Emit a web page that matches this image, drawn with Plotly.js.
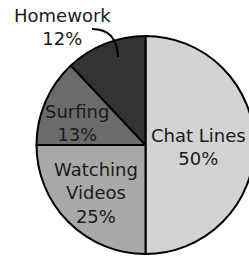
<!DOCTYPE html>
<html>
<head>
<meta charset="utf-8">
<script src="https://cdn.plot.ly/plotly-3.0.1.min.js"></script>
<style>
html,body{margin:0;padding:0;background:#fff;overflow:hidden;width:249px;height:257px;}
#chart{width:260px;height:257px;}
</style>
</head>
<body>
<div id="chart"></div>
<script>
// Data
const categories = ['Chat Lines', 'Watching Videos', 'Surfing', 'Homework'];
const labelText = ['Chat Lines', 'Watching<br>Videos', 'Surfing', 'Homework'];
const percents = [50, 25, 13, 12];
const sliceColors = ['#d3d3d3', '#a9a9a9', '#6b6b6b', '#333333'];

const W = 260, H = 257;
const px = x => x / W;
const py = y => 1 - y / H;

// label block centres (pixels)
const labelPos = [[198, 147], [96, 193], [77, 123], [62, 27]];

const annotations = categories.map((c, i) => ({
  text: labelText[i] + '<br>' + percents[i] + '%',
  x: px(labelPos[i][0]), y: py(labelPos[i][1]),
  xref: 'paper', yref: 'paper', xanchor: 'center', yanchor: 'middle',
  showarrow: false,
  font: {family: 'DejaVu Sans, Verdana, sans-serif', size: 18, color: '#1a1a1a'}
}));

const leader = `M ${px(92)} ${py(29)} Q ${px(117)} ${py(29)} ${px(118)} ${py(57)}`;

const data = [{
  type: 'pie',
  labels: categories,
  values: percents,
  sort: false,
  direction: 'clockwise',
  rotation: 0,
  textinfo: 'none',
  hoverinfo: 'none',
  marker: {colors: sliceColors, line: {color: '#000', width: 2}},
  domain: {x: [36.5 / W, 254.5 / W], y: [3 / H, 221 / H]}
}];

const layout = {
  width: W, height: H,
  margin: {l: 0, r: 0, t: 0, b: 0},
  paper_bgcolor: '#fff',
  showlegend: false,
  annotations: annotations,
  shapes: [{type: 'path', xref: 'paper', yref: 'paper', path: leader,
            line: {color: '#000', width: 2}}]
};

Plotly.newPlot('chart', data, layout, {displayModeBar: false, staticPlot: true});
</script>
</body>
</html>
